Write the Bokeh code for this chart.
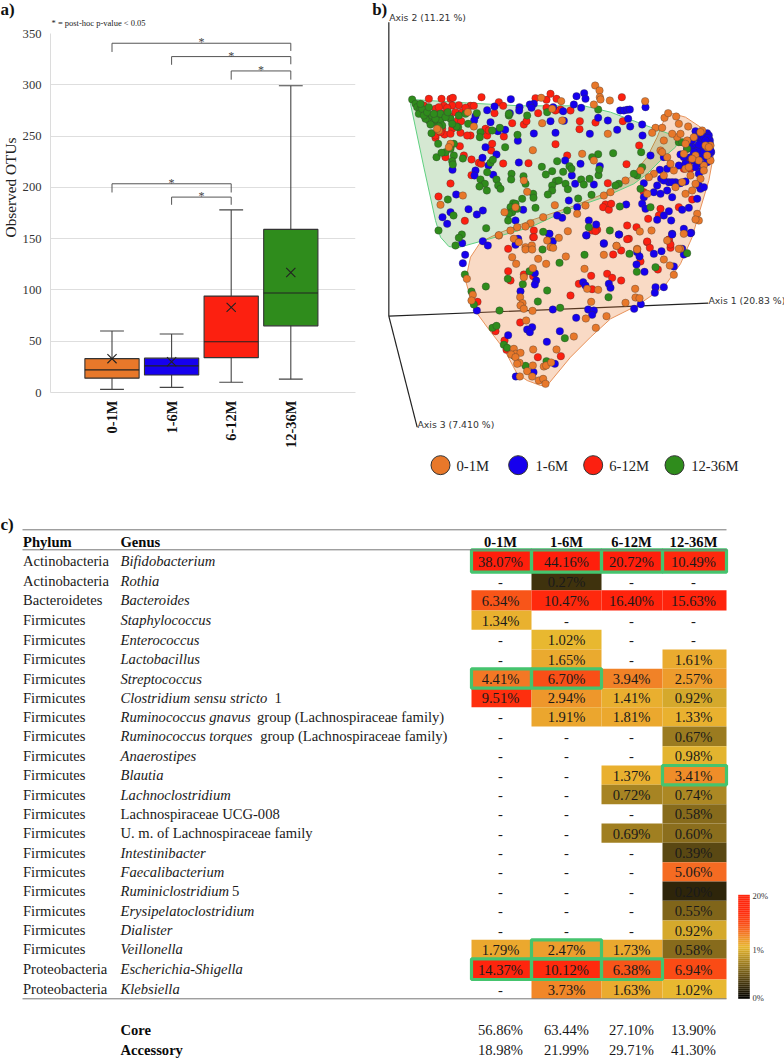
from bokeh.plotting import figure
from bokeh.embed import file_html
from bokeh.resources import INLINE
from bokeh.models import ColumnDataSource, FixedTicker, Label, Range1d
from bokeh.core.properties import value
import numpy as np

SERIF = "Liberation Serif"
GROUPS = ["0-1M", "1-6M", "6-12M", "12-36M"]
GROUP_COLORS = ["#e8782a", "#1600ee", "#fc2010", "#2f8c1c"]

# ---- panel a: box plot values
Q1 = [14, 17, 34, 65]
MEDIAN = [22, 26, 49.5, 97]
Q3 = [33, 33.5, 94, 159]
WHISK_LO = [3, 5, 10, 13]
WHISK_HI = [60, 57, 178, 299]
MEAN = [33, 30, 83, 117]
Y_TICKS = [0, 50, 100, 150, 200, 250, 300, 350]
# bracket: from group, to group, top, left foot, right foot
BRACKETS = [(1, 4, 340.5, 332, 333), (2, 4, 327.5, 319.5, 320), (3, 4, 313.5, 305, 305),
            (1, 3, 203.5, 195, 195), (2, 3, 190.5, 183, 183)]

# ---- panel b: ordination scores (arbitrary units of the picture)
GREEN_HULL_X = [125,300,450,640,720,840,925,915,880,830,790,700,600,480,340,260,235,210,195,160,120]
GREEN_HULL_Y = [297,308,316,316,335,380,410,440,470,520,550,590,625,680,720,742,738,710,660,500,310]
ORANGE_HULL_X = [890,945,990,1025,1028,1015,985,965,930,880,800,720,660,600,530,510,470,440,400,350,310,285,300,330,380,480,600,700,780,830,860]
ORANGE_HULL_Y = [335,350,380,410,470,540,640,710,790,860,915,955,1010,1070,1155,1155,1140,1120,1045,980,925,840,770,725,700,660,620,580,530,470,410]
LOWER = 690
RED_UP = [(175,295),(213,295),(240,295),(247,292),(333,290),(385,305),(398,316),(495,293),(528,298),(540,280),(558,295),(754,290),(300,316),(265,314),(245,315),(220,316),(195,325),(180,348),(218,340),(238,348),(262,360),(272,362),(215,385),(245,385),(222,402),(195,412),(270,397),(300,405),(350,405),(345,385),(400,408),(372,338),(425,368),(460,372),(468,362),(503,338),(628,362),(627,386),(675,366),(757,362),(555,431),(806,435),(768,491),(712,548),(590,465),(474,488),(398,489),(325,487),(332,490),(303,477),(280,465),(268,437),(225,470),(362,450),(365,430),(303,524),(240,549),(204,588),(283,661),(600,330),(570,327),(705,612),(698,620),(715,628),(722,610),(555,330),(528,322),(950,480),(955,495),(960,505),(870,625),(865,645),(833,655),(820,575),(770,675),(798,680),(775,715),(830,725),(900,742),(680,688),(665,690),(895,720),(965,597),(925,620),(488,710),(490,690),(160,315),(205,320),(230,322),(255,335),(275,335),(285,322),(310,316),(195,405),(240,400),(210,395),(290,405),(355,390),(945,490),(940,505)]
RED_LOW = [(413,55),(413,122),(460,132),(488,137),(420,150),(662,136),(710,130),(725,142),(752,150),(625,160),(665,176),(600,195),(728,72),(752,60),(770,26),(830,33),(838,52),(895,27),(900,42),(810,93),(862,117),(321,214),(449,276),(375,302),(402,330),(408,358),(502,380),(571,377),(490,20),(675,2)]
BLUE_UP = [(421,296),(618,287),(641,278),(645,295),(825,320),(749,330),(760,330),(770,328),(778,327),(773,355),(632,322),(610,312),(578,332),(548,320),(490,310),(478,312),(483,322),(447,320),(446,330),(372,318),(418,338),(350,329),(315,347),(311,360),(360,365),(404,388),(382,392),(490,399),(555,397),(442,421),(658,400),(683,352),(712,360),(740,388),(779,378),(815,372),(816,405),(540,362),(580,361),(345,440),(378,462),(336,472),(354,495),(315,510),(312,525),(246,508),(368,523),(445,486),(630,490),(584,480),(688,497),(604,525),(614,550),(670,552),(257,582),(294,626),(337,630),(319,642),(240,635),(216,650),(230,670),(275,728),(458,628),(435,660),(595,600),(620,620),(975,392),(985,398),(1010,398),(1015,405),(1018,420),(1022,455),(965,420),(990,420),(950,445),(930,462),(960,440),(975,440),(985,465),(1005,470),(1015,470),(990,490),(970,480),(925,495),(890,505),(868,508),(872,535),(895,545),(915,545),(860,555),(850,575),(890,570),(905,590),(820,548),(820,590),(815,610),(825,625),(870,580),(935,628),(955,622),(895,632),(990,565),(980,595),(880,645),(860,658),(902,660),(840,465),(880,470),(655,660),(677,672),(648,705),(535,700),(545,722),(700,730),(746,702),(905,700),(940,685),(962,697),(767,612),(575,652),(560,645),(1000,410),(1012,412),(1018,430),(1005,430),(995,445),(980,450),(970,455),(1000,455),(1010,485),(995,510),(985,520),(975,500),(940,470),(945,490),(1020,450),(1005,420),(985,432),(975,410),(960,470),(905,545),(880,540),(930,548),(945,543),(985,555),(1000,560)]
BLUE_LOW = [(443,25),(435,43),(537,10),(547,33),(647,14),(700,38),(745,12),(905,12),(960,8),(935,55),(940,72),(850,70),(873,62),(800,65),(807,78),(798,102),(822,124),(910,108),(284,73),(277,98),(337,32),(352,45),(493,128),(497,150),(493,162),(450,182),(638,155),(645,165),(715,160),(720,172),(855,170),(880,170),(853,187),(811,221),(791,235),(653,237),(670,240),(665,253),(547,237),(617,262),(319,240),(485,290),(470,297),(478,305),(568,302),(529,334),(413,314),(553,400),(489,425),(436,438)]
GREEN_UP = [(125,297),(135,310),(140,320),(150,325),(160,330),(145,340),(165,345),(155,325),(175,360),(190,365),(205,345),(200,360),(180,372),(210,360),(165,355),(240,355),(183,398),(203,430),(293,370),(263,380),(319,338),(330,395),(328,410),(365,390),(388,382),(415,345),(470,345),(441,403),(404,440),(250,430),(240,445),(225,455),(250,465),(198,470),(213,457),(277,474),(245,482),(247,492),(350,515),(360,487),(367,478),(423,520),(422,537),(459,527),(465,550),(330,537),(343,550),(349,570),(327,558),(378,537),(383,555),(390,565),(514,499),(560,482),(545,512),(526,522),(578,514),(597,497),(603,505),(556,542),(565,540),(545,555),(585,550),(592,566),(545,570),(632,537),(640,552),(657,535),(684,524),(686,507),(683,461),(728,458),(665,470),(532,582),(488,580),(489,592),(455,595),(495,622),(428,608),(435,610),(420,620),(425,635),(440,625),(415,640),(413,660),(232,597),(249,645),(347,683),(204,690),(274,702),(265,712),(255,735),(623,594),(663,583),(683,327),(812,455),(925,425),(935,425),(950,445),(800,525),(815,500),(790,520),(745,550),(735,555),(590,630),(748,618),(718,690),(655,680),(840,620),(810,565),(530,335),(415,340),(150,310),(160,345),(185,345),(170,335),(195,355),(210,340),(225,350),(232,335),(190,340),(175,320),(215,375),(205,378),(258,378),(265,345),(285,340),(245,370)]
GREEN_LOW = [(516,57),(642,73),(567,97),(777,70),(799,124),(855,110),(950,68),(477,122),(412,145),(457,161),(530,180),(346,168),(283,132),(303,183),(310,222),(502,213),(387,240),(569,232),(714,200),(366,292),(378,286),(583,323),(400,343),(410,352),(430,375),(465,406),(528,392),(518,4)]
ORANGE_UP = [(674,255),(687,270),(688,290),(690,297),(718,300),(824,302),(670,312),(512,292),(545,325),(572,302),(292,335),(310,378),(205,390),(200,385),(515,368),(575,360),(712,400),(487,449),(635,460),(670,480),(240,430),(235,440),(460,540),(470,574),(553,614),(277,585),(210,613),(402,635),(435,620),(620,640),(645,615),(700,585),(720,575),(765,540),(810,510),(855,382),(845,397),(875,382),(882,352),(893,338),(917,348),(953,378),(925,370),(870,450),(880,420),(890,470),(910,510),(950,420),(975,465),(1010,440),(1000,495),(1020,435),(945,505),(960,525),(935,545),(915,560),(945,580),(980,640),(985,660),(975,657),(940,700),(890,720),(830,580),(843,690),(808,693),(738,736),(800,745),(930,745),(592,692),(565,712),(518,650),(480,668),(465,678),(440,680),(420,690),(385,705),(430,715),(445,725),(465,740),(484,735),(540,740),(995,390),(1005,435),(1015,440),(985,480),(1000,510),(1020,480),(965,475),(970,410),(940,460),(955,500),(990,535),(975,550),(965,570),(920,410),(930,400),(905,400),(875,455),(900,490),(880,525),(850,520),(835,530),(990,395),(1010,465),(945,430)]
ORANGE_LOW = [(385,14),(425,80),(437,100),(503,85),(527,100),(586,78),(465,57),(485,57),(530,30),(548,52),(700,73),(642,115),(738,46),(800,57),(925,55),(880,87),(898,105),(910,133),(794,175),(795,201),(807,203),(765,217),(662,214),(683,178),(650,175),(449,200),(456,218),(450,225),(460,235),(486,241),(708,257),(646,264),(676,292),(610,318),(467,270),(289,145),(307,193),(303,210),(488,357),(558,357),(430,355),(435,370),(450,367),(422,372),(435,380),(447,397),(440,400),(487,405),(520,408),(527,405),(542,396),(470,422),(485,438),(448,438),(505,450),(518,445),(525,460),(487,113),(460,140)]

# ---- panel c: table values
PHYLA = ["Actinobacteria","Actinobacteria","Bacteroidetes"] + ["Firmicutes"]*17 + ["Firmicutes","Proteobacteria","Proteobacteria"]
GENUS_ITALIC = ["Bifidobacterium","Rothia","Bacteroides","Staphylococcus","Enterococcus","Lactobacillus","Streptococcus","Clostridium sensu stricto","Ruminococcus gnavus","Ruminococcus torques","Anaerostipes","Blautia","Lachnoclostridium","","","Intestinibacter","Faecalibacterium","Ruminiclostridium","Erysipelatoclostridium","Dialister","Veillonella","Escherichia-Shigella","Klebsiella"]
GENUS_PLAIN = ["","","","","","","","1","group (Lachnospiraceae family)","group (Lachnospiraceae family)","","","","Lachnospiraceae UCG-008","U. m. of Lachnospiraceae family","","","5","","","","",""]
n = float("nan")
COL_A = [38.07,n,6.34,1.34,n,n,4.41,9.51,n,n,n,n,n,n,n,n,n,n,n,n,1.79,14.37,n]
COL_B = [44.16,0.27,10.47,n,1.02,1.65,6.70,2.94,1.91,n,n,n,n,n,n,n,n,n,n,n,2.47,10.12,3.73]
COL_C = [20.72,n,16.40,n,n,n,3.94,1.41,1.81,n,n,1.37,0.72,n,0.69,n,n,n,n,n,1.73,6.38,1.63]
COL_D = [10.49,n,15.63,n,n,1.61,2.57,0.92,1.33,0.67,0.98,3.41,0.74,0.58,0.60,0.39,5.06,0.20,0.55,0.92,0.58,6.94,1.02]
CORE = [56.86,63.44,27.10,13.90]
ACCESSORY = [18.98,21.99,29.71,41.30]
HIGHLIGHT = [(0,0),(0,1),(0,2),(0,3),(6,0),(6,1),(11,3),(20,1),(21,0),(21,1),(21,2)]

# ---- layout constants (page pixels)
TOP_H = 505
COL_EDGES = [471, 531, 601, 662, 726]
COL_TEXT = [500, 566, 631, 693]
ROW_EDGES = [549.3,571.7,589.7,610,629.3,649,668.3,687.7,706.7,726,745.7,765,784.3,803.7,823,842.3,861.7,881,900.3,920,939.3,958.3,979,998.3]

# colour scale
SCALE_V = [0, 1.0, 1.6, 3.0, 5.0, 7.0, 10.0, 20.0]
SCALE_RGB = np.array([[0,0,0],[232,184,48],[234,171,47],[238,150,43],[245,108,34],[250,74,21],[255,42,13],[255,31,12]], float)
def heat(v):
    c = [int(round(np.interp(v, SCALE_V, SCALE_RGB[:, k]))) for k in range(3)]
    return "#%02x%02x%02x" % tuple(c)

def base(w, h, left, top, **kw):
    f = figure(width=w, height=h, output_backend="svg", toolbar_location=None, **kw)
    f.outline_line_color = None
    f.background_fill_color = None
    f.border_fill_color = None
    f.styles = {"position": "absolute", "left": f"{left}px", "top": f"{top}px"}
    return f

# ================= panel a
L, R, T, B = 50, 15, 33, 113
slot = 59.6
xr = Range1d(1 - 61.5 / slot, 1 - 61.5 / slot + 305 / slot)
a = base(370, TOP_H, 0, 0, x_range=xr, y_range=Range1d(0, 350), min_border_left=L, min_border_right=R, min_border_top=T, min_border_bottom=B)
a.xgrid.visible = False
a.ygrid.grid_line_color = "#dedede"
a.ygrid.grid_line_width = 1.2
a.ygrid.ticker = FixedTicker(ticks=Y_TICKS)
a.yaxis.ticker = FixedTicker(ticks=Y_TICKS)
a.xaxis.ticker = FixedTicker(ticks=[1, 2, 3, 4])
a.xaxis.major_label_overrides = {i + 1: g for i, g in enumerate(GROUPS)}
a.xaxis.major_label_orientation = np.pi / 2
a.xaxis.major_label_text_font = SERIF
a.xaxis.major_label_text_font_style = "bold"
a.xaxis.major_label_text_font_size = "14.5px"
a.xaxis.major_label_text_color = "#111111"
a.xaxis.major_label_standoff = 8
a.yaxis.major_label_text_font = SERIF
a.yaxis.major_label_text_font_size = "12.6px"
a.yaxis.major_label_text_color = "#333333"
a.yaxis.major_label_standoff = 9
for ax in (a.xaxis, a.yaxis):
    ax.axis_line_color = "#dcdcdc"
    ax.major_tick_line_color = None
    ax.minor_tick_line_color = None
    ax.major_tick_out = 0
    ax.major_tick_in = 0
    ax.minor_tick_out = 0
x = [1, 2, 3, 4]
src = ColumnDataSource(dict(x=x, q1=Q1, q3=Q3, med=MEDIAN, lo=WHISK_LO, hi=WHISK_HI, mean=MEAN, color=GROUP_COLORS))
a.segment("x", "lo", "x", "hi", source=src, line_color="#444444", line_width=1.1)
a.segment([xi - 0.2 for xi in x] * 2, WHISK_LO + WHISK_HI, [xi + 0.2 for xi in x] * 2, WHISK_LO + WHISK_HI, line_color="#444444", line_width=1.1)
a.vbar("x", width=0.91, bottom="q1", top="q3", source=src, fill_color="color", line_color="#333333", line_width=1.1)
a.segment([xi - 0.455 for xi in x], MEDIAN, [xi + 0.455 for xi in x], MEDIAN, line_color="#222222", line_width=1.2)
a.scatter("x", "mean", source=src, marker="x", size=13, line_color="#222222", line_width=1.1, fill_color=None)
for g0, g1, top, f0, f1 in BRACKETS:
    a.line([g0, g0, g1, g1], [f0, top, top, f1], line_color="#555555", line_width=1)
    a.add_layout(Label(x=(g0 + g1) / 2, y=top + 1, text="*", text_font=SERIF, text_font_size="12px",
                       text_color="#444444", text_align="center", text_baseline="middle"))

# outer texts of panel a, on a transparent sheet over the same area
note = base(370, TOP_H, 0, 0, x_range=Range1d(0, 370), y_range=Range1d(TOP_H, 0), min_border=0)
note.axis.visible = False
note.grid.visible = False
note.text([0], [8.5], text=["a)"], text_font=value(SERIF), text_font_style="bold", text_font_size="17px", text_color="#111111", text_baseline="middle")
note.text([51], [22], text=["* = post-hoc p-value < 0.05"], text_font=value(SERIF), text_font_size="8.5px", text_color="#222222", text_baseline="middle")
note.text([10], [187], text=["Observed OTUs"], angle=np.pi / 2, text_font=value(SERIF), text_font_size="15.3px", text_color="#222222", text_align="center", text_baseline="middle")

# ================= panel b
b = base(414, TOP_H, 370, 0, x_range=Range1d(0, 1242), y_range=Range1d(3 * TOP_H, 0), min_border=0)
b.axis.visible = False
b.grid.visible = False
AXIS_ORIGIN = (55, 947)
AXIS_ENDS = [(55, 65), (1013, 908), (140, 1280)]
b.segment([AXIS_ORIGIN[0]] * 3, [AXIS_ORIGIN[1]] * 3, [e[0] for e in AXIS_ENDS], [e[1] for e in AXIS_ENDS],
          line_color="#222222", line_width=1.2)
b.patch(ORANGE_HULL_X, ORANGE_HULL_Y, fill_color="#e8782a", fill_alpha=0.27, line_color="#e8925a", line_width=1)
b.patch(GREEN_HULL_X, GREEN_HULL_Y, fill_color="#2f8c1c", fill_alpha=0.2, line_color="#5fd080", line_width=1)
series = [(RED_UP, RED_LOW, GROUP_COLORS[2]), (BLUE_UP, BLUE_LOW, GROUP_COLORS[1]),
          (GREEN_UP, GREEN_LOW, GROUP_COLORS[3]), (ORANGE_UP, ORANGE_LOW, GROUP_COLORS[0])]
for up, low, col in series:
    xs = [p[0] for p in up] + [p[0] for p in low]
    ys = [p[1] for p in up] + [p[1] + LOWER for p in low]
    b.scatter(xs, ys, size=7.5, fill_color=col, line_color="#333333", line_alpha=0.55, line_width=0.6)
AX_LABELS = [("Axis 2 (11.21 %)", 56, 52), ("Axis 1 (20.83 %)", 1014, 899), ("Axis 3 (7.410 %)", 141, 1271)]
b.text([t[1] for t in AX_LABELS], [t[2] for t in AX_LABELS], text=[t[0] for t in AX_LABELS],
       text_font=value("DejaVu Sans"), text_font_size="9.3px", text_color="#333333", text_baseline="middle")
LEG_X = [210, 443, 668, 912]
LEG_TX = [258, 495, 716, 962]
LEG_Y = 1394
b.scatter(LEG_X, [LEG_Y] * 4, size=19, fill_color=GROUP_COLORS, line_color="#333333", line_width=1)
b.text(LEG_TX, [LEG_Y + 2] * 4, text=GROUPS, text_font=value(SERIF), text_font_size="14.7px", text_color="#222222", text_baseline="middle")
b.text([5], [26], text=["b)"], text_font=value(SERIF), text_font_style="bold", text_font_size="17px", text_color="#111111", text_baseline="middle")

# ================= panel c
c = base(784, 1058 - TOP_H, 0, TOP_H, x_range=Range1d(0, 784), y_range=Range1d(1058, TOP_H), min_border=0)
c.axis.visible = False
c.grid.visible = False
columns = [COL_A, COL_B, COL_C, COL_D]
cells = dict(l=[], r=[], t=[], b=[], color=[])
vals = dict(x=[], y=[], t=[])
centers = [(ROW_EDGES[i] + ROW_EDGES[i + 1]) / 2 for i in range(len(PHYLA))]
for j, col in enumerate(columns):
    for i, v in enumerate(col):
        vals["x"].append(COL_TEXT[j])
        vals["y"].append(centers[i] + 0.5)
        if np.isnan(v):
            vals["t"].append("-")
        else:
            vals["t"].append(f"{v:.2f}%")
            cells["l"].append(COL_EDGES[j]); cells["r"].append(COL_EDGES[j + 1])
            cells["t"].append(ROW_EDGES[i]); cells["b"].append(ROW_EDGES[i + 1])
            cells["color"].append(heat(v))
c.quad(left="l", right="r", top="t", bottom="b", fill_color="color", line_color=None, source=ColumnDataSource(cells))
c.quad(left=[COL_EDGES[j] for i, j in HIGHLIGHT], right=[COL_EDGES[j + 1] for i, j in HIGHLIGHT],
       top=[ROW_EDGES[i] for i, j in HIGHLIGHT], bottom=[ROW_EDGES[i + 1] for i, j in HIGHLIGHT],
       fill_color=None, line_color="#45c46e", line_width=3.2)
c.segment([22, 22, 22], [529.3, 549.3, 998.3], [726, 726, 726], [529.3, 549.3, 998.3], line_color="#777777", line_width=1)
txt = dict(text_font=value(SERIF), text_font_size="14.6px", text_color="#1a1a1a", text_baseline="middle")
c.text(vals["x"], vals["y"], text=vals["t"], text_align="center", **txt)
c.text([22.5] * len(PHYLA), centers, text=PHYLA, **txt)
c.text([120] * len(PHYLA), centers, text=GENUS_ITALIC, text_font_style="italic", **txt)
PLAIN_X = [0, 0, 0, 0, 0, 0, 0, 274, 256.5, 259.7, 0, 0, 0, 120, 120, 0, 0, 231.5, 0, 0, 0, 0, 0]
c.text([p for p, s in zip(PLAIN_X, GENUS_PLAIN) if s], [y for y, s in zip(centers, GENUS_PLAIN) if s],
       text=[s for s in GENUS_PLAIN if s], **txt)
bold = dict(txt); bold["text_font_style"] = "bold"; bold["text_color"] = "#0a0a0a"
c.text([22.5, 120], [541, 541], text=["Phylum", "Genus"], **bold)
c.text(COL_TEXT, [541] * 4, text=GROUPS, text_align="center", **bold)
c.text([120, 120], [1029, 1049], text=["Core", "Accessory"], **bold)
c.text(COL_TEXT, [1029] * 4, text=[f"{v:.2f}%" for v in CORE], text_align="center", **txt)
c.text(COL_TEXT, [1049] * 4, text=[f"{v:.2f}%" for v in ACCESSORY], text_align="center", **txt)
c.text([0], [524], text=["c)"], text_font=value(SERIF), text_font_style="bold", text_font_size="17px", text_color="#111111", text_baseline="middle")
# colour key: 0% at the foot, 1% half way, 20% at the head
KEY_TOP, KEY_BOTTOM, KEY_L, KEY_R = 894.3, 998.3, 737.7, 749.3
steps = 52
edges = np.linspace(KEY_BOTTOM, KEY_TOP, steps + 1)
fr = (np.arange(steps) + 0.5) / steps
key_vals = np.where(fr < 0.5, fr * 2, 1 + (fr - 0.5) * 2 * 13)
c.quad(left=KEY_L, right=KEY_R, bottom=edges[:-1], top=edges[1:], fill_color=[heat(v) for v in key_vals], line_color=None)
c.text([752] * 3, [895.5, 949, 997], text=["20%", "1%", "0%"], text_font=value(SERIF), text_font_size="8.5px", text_color="#333333", text_baseline="middle")

open("out.html", "w").write(file_html([a, note, b, c], INLINE))
